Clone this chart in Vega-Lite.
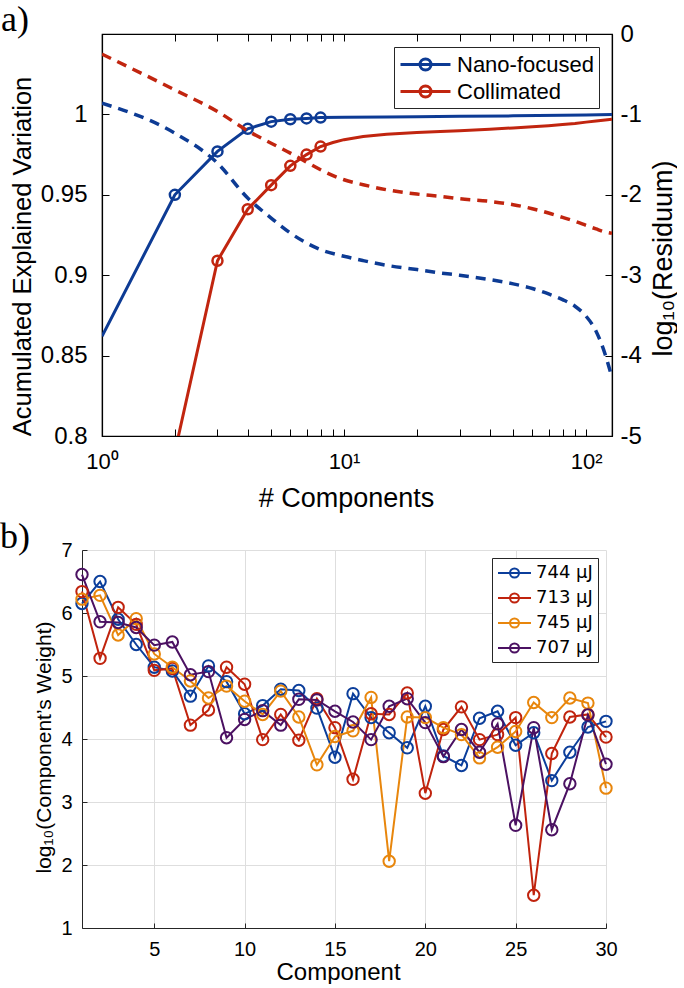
{
  "$schema": "https://vega.github.io/schema/vega-lite/v6.json",
  "background": "white",
  "padding": {"left": 0, "top": 1, "right": 0, "bottom": 0},
  "config": {
    "font": "Liberation Sans",
    "view": {"stroke": null},
    "axis": {"labelColor": "black", "titleColor": "black", "titleFontWeight": "normal", "domainColor": "black", "tickColor": "black", "labelFont": "Liberation Sans", "titleFont": "Liberation Sans", "grid": false, "labelOverlap": false},
    "legend": {"labelColor": "black"},
    "title": {"color": "black"}
  },
  "resolve": {"scale": {"color": "independent"}, "legend": {"color": "independent"}},
  "datasets": {
    "acc": [
      {"n": 1, "series": "Nano-focused", "v": 0.862},
      {"n": 2, "series": "Nano-focused", "v": 0.95},
      {"n": 3, "series": "Nano-focused", "v": 0.977},
      {"n": 4, "series": "Nano-focused", "v": 0.991},
      {"n": 5, "series": "Nano-focused", "v": 0.9955},
      {"n": 6, "series": "Nano-focused", "v": 0.997},
      {"n": 7, "series": "Nano-focused", "v": 0.9975},
      {"n": 8, "series": "Nano-focused", "v": 0.998},
      {"n": 10, "series": "Nano-focused", "v": 0.9982},
      {"n": 15, "series": "Nano-focused", "v": 0.9984},
      {"n": 20, "series": "Nano-focused", "v": 0.9986},
      {"n": 30, "series": "Nano-focused", "v": 0.9988},
      {"n": 50, "series": "Nano-focused", "v": 0.9991},
      {"n": 80, "series": "Nano-focused", "v": 0.9995},
      {"n": 100, "series": "Nano-focused", "v": 0.9997},
      {"n": 128, "series": "Nano-focused", "v": 0.9999},
      {"n": 2, "series": "Collimated", "v": 0.79},
      {"n": 3, "series": "Collimated", "v": 0.909},
      {"n": 4, "series": "Collimated", "v": 0.941},
      {"n": 5, "series": "Collimated", "v": 0.956},
      {"n": 6, "series": "Collimated", "v": 0.968},
      {"n": 7, "series": "Collimated", "v": 0.975},
      {"n": 8, "series": "Collimated", "v": 0.98},
      {"n": 9, "series": "Collimated", "v": 0.9825},
      {"n": 10, "series": "Collimated", "v": 0.9843},
      {"n": 12, "series": "Collimated", "v": 0.9863},
      {"n": 15, "series": "Collimated", "v": 0.9877},
      {"n": 20, "series": "Collimated", "v": 0.9887},
      {"n": 25, "series": "Collimated", "v": 0.9894},
      {"n": 30, "series": "Collimated", "v": 0.9899},
      {"n": 40, "series": "Collimated", "v": 0.9908},
      {"n": 50, "series": "Collimated", "v": 0.9916},
      {"n": 60, "series": "Collimated", "v": 0.9923},
      {"n": 70, "series": "Collimated", "v": 0.993},
      {"n": 80, "series": "Collimated", "v": 0.9937},
      {"n": 90, "series": "Collimated", "v": 0.9944},
      {"n": 100, "series": "Collimated", "v": 0.9952},
      {"n": 110, "series": "Collimated", "v": 0.9959},
      {"n": 120, "series": "Collimated", "v": 0.9965},
      {"n": 128, "series": "Collimated", "v": 0.997}
    ],
    "res": [
      {"n": 1, "series": "Nano-focused", "v": -0.861},
      {"n": 2, "series": "Nano-focused", "v": -1.233},
      {"n": 3, "series": "Nano-focused", "v": -1.606},
      {"n": 4, "series": "Nano-focused", "v": -2.04},
      {"n": 5, "series": "Nano-focused", "v": -2.289},
      {"n": 6, "series": "Nano-focused", "v": -2.475},
      {"n": 7, "series": "Nano-focused", "v": -2.6},
      {"n": 8, "series": "Nano-focused", "v": -2.682},
      {"n": 10, "series": "Nano-focused", "v": -2.765},
      {"n": 12, "series": "Nano-focused", "v": -2.819},
      {"n": 15, "series": "Nano-focused", "v": -2.877},
      {"n": 20, "series": "Nano-focused", "v": -2.93},
      {"n": 25, "series": "Nano-focused", "v": -2.972},
      {"n": 30, "series": "Nano-focused", "v": -3.0},
      {"n": 40, "series": "Nano-focused", "v": -3.055},
      {"n": 50, "series": "Nano-focused", "v": -3.108},
      {"n": 60, "series": "Nano-focused", "v": -3.166},
      {"n": 70, "series": "Nano-focused", "v": -3.233},
      {"n": 80, "series": "Nano-focused", "v": -3.303},
      {"n": 90, "series": "Nano-focused", "v": -3.386},
      {"n": 100, "series": "Nano-focused", "v": -3.51},
      {"n": 110, "series": "Nano-focused", "v": -3.696},
      {"n": 120, "series": "Nano-focused", "v": -3.986},
      {"n": 128, "series": "Nano-focused", "v": -4.276},
      {"n": 1, "series": "Collimated", "v": -0.25},
      {"n": 2, "series": "Collimated", "v": -0.695},
      {"n": 3, "series": "Collimated", "v": -0.964},
      {"n": 4, "series": "Collimated", "v": -1.204},
      {"n": 5, "series": "Collimated", "v": -1.358},
      {"n": 6, "series": "Collimated", "v": -1.482},
      {"n": 7, "series": "Collimated", "v": -1.594},
      {"n": 8, "series": "Collimated", "v": -1.689},
      {"n": 10, "series": "Collimated", "v": -1.813},
      {"n": 12, "series": "Collimated", "v": -1.875},
      {"n": 15, "series": "Collimated", "v": -1.937},
      {"n": 20, "series": "Collimated", "v": -1.991},
      {"n": 25, "series": "Collimated", "v": -2.02},
      {"n": 30, "series": "Collimated", "v": -2.049},
      {"n": 40, "series": "Collimated", "v": -2.082},
      {"n": 50, "series": "Collimated", "v": -2.123},
      {"n": 60, "series": "Collimated", "v": -2.173},
      {"n": 70, "series": "Collimated", "v": -2.227},
      {"n": 80, "series": "Collimated", "v": -2.281},
      {"n": 90, "series": "Collimated", "v": -2.33},
      {"n": 100, "series": "Collimated", "v": -2.38},
      {"n": 110, "series": "Collimated", "v": -2.425},
      {"n": 120, "series": "Collimated", "v": -2.463},
      {"n": 128, "series": "Collimated", "v": -2.48}
    ],
    "weights": [
      {"c": 1, "e": "744 µJ", "w": 6.15}, {"c": 2, "e": "744 µJ", "w": 6.5}, {"c": 3, "e": "744 µJ", "w": 5.9}, {"c": 4, "e": "744 µJ", "w": 5.5}, {"c": 5, "e": "744 µJ", "w": 5.14}, {"c": 6, "e": "744 µJ", "w": 5.08}, {"c": 7, "e": "744 µJ", "w": 4.68}, {"c": 8, "e": "744 µJ", "w": 5.16}, {"c": 9, "e": "744 µJ", "w": 4.91}, {"c": 10, "e": "744 µJ", "w": 4.4},
      {"c": 11, "e": "744 µJ", "w": 4.53}, {"c": 12, "e": "744 µJ", "w": 4.79}, {"c": 13, "e": "744 µJ", "w": 4.77}, {"c": 14, "e": "744 µJ", "w": 4.49}, {"c": 15, "e": "744 µJ", "w": 3.71}, {"c": 16, "e": "744 µJ", "w": 4.72}, {"c": 17, "e": "744 µJ", "w": 4.34}, {"c": 18, "e": "744 µJ", "w": 4.1}, {"c": 19, "e": "744 µJ", "w": 3.86}, {"c": 20, "e": "744 µJ", "w": 4.52},
      {"c": 21, "e": "744 µJ", "w": 3.73}, {"c": 22, "e": "744 µJ", "w": 3.58}, {"c": 23, "e": "744 µJ", "w": 4.33}, {"c": 24, "e": "744 µJ", "w": 4.44}, {"c": 25, "e": "744 µJ", "w": 3.9}, {"c": 26, "e": "744 µJ", "w": 4.1}, {"c": 27, "e": "744 µJ", "w": 3.34}, {"c": 28, "e": "744 µJ", "w": 3.79}, {"c": 29, "e": "744 µJ", "w": 4.19}, {"c": 30, "e": "744 µJ", "w": 4.28},
      {"c": 1, "e": "713 µJ", "w": 6.34}, {"c": 2, "e": "713 µJ", "w": 5.28}, {"c": 3, "e": "713 µJ", "w": 6.09}, {"c": 4, "e": "713 µJ", "w": 5.82}, {"c": 5, "e": "713 µJ", "w": 5.09}, {"c": 6, "e": "713 µJ", "w": 5.12}, {"c": 7, "e": "713 µJ", "w": 4.22}, {"c": 8, "e": "713 µJ", "w": 4.46}, {"c": 9, "e": "713 µJ", "w": 5.14}, {"c": 10, "e": "713 µJ", "w": 4.87},
      {"c": 11, "e": "713 µJ", "w": 3.99}, {"c": 12, "e": "713 µJ", "w": 4.39}, {"c": 13, "e": "713 µJ", "w": 3.98}, {"c": 14, "e": "713 µJ", "w": 4.64}, {"c": 15, "e": "713 µJ", "w": 4.18}, {"c": 16, "e": "713 µJ", "w": 3.36}, {"c": 17, "e": "713 µJ", "w": 4.4}, {"c": 18, "e": "713 µJ", "w": 4.39}, {"c": 19, "e": "713 µJ", "w": 4.73}, {"c": 20, "e": "713 µJ", "w": 3.14},
      {"c": 21, "e": "713 µJ", "w": 4.15}, {"c": 22, "e": "713 µJ", "w": 4.51}, {"c": 23, "e": "713 µJ", "w": 3.99}, {"c": 24, "e": "713 µJ", "w": 4.07}, {"c": 25, "e": "713 µJ", "w": 4.34}, {"c": 26, "e": "713 µJ", "w": 1.52}, {"c": 27, "e": "713 µJ", "w": 3.77}, {"c": 28, "e": "713 µJ", "w": 4.35}, {"c": 29, "e": "713 µJ", "w": 4.39}, {"c": 30, "e": "713 µJ", "w": 4.03},
      {"c": 1, "e": "745 µJ", "w": 6.22}, {"c": 2, "e": "745 µJ", "w": 6.28}, {"c": 3, "e": "745 µJ", "w": 5.65}, {"c": 4, "e": "745 µJ", "w": 5.91}, {"c": 5, "e": "745 µJ", "w": 5.35}, {"c": 6, "e": "745 µJ", "w": 5.14}, {"c": 7, "e": "745 µJ", "w": 4.92}, {"c": 8, "e": "745 µJ", "w": 4.65}, {"c": 9, "e": "745 µJ", "w": 4.84}, {"c": 10, "e": "745 µJ", "w": 4.6},
      {"c": 11, "e": "745 µJ", "w": 4.39}, {"c": 12, "e": "745 µJ", "w": 4.76}, {"c": 13, "e": "745 µJ", "w": 4.35}, {"c": 14, "e": "745 µJ", "w": 3.59}, {"c": 15, "e": "745 µJ", "w": 4.04}, {"c": 16, "e": "745 µJ", "w": 4.13}, {"c": 17, "e": "745 µJ", "w": 4.66}, {"c": 18, "e": "745 µJ", "w": 2.06}, {"c": 19, "e": "745 µJ", "w": 4.35}, {"c": 20, "e": "745 µJ", "w": 4.34},
      {"c": 21, "e": "745 µJ", "w": 4.18}, {"c": 22, "e": "745 µJ", "w": 4.07}, {"c": 23, "e": "745 µJ", "w": 3.7}, {"c": 24, "e": "745 µJ", "w": 3.87}, {"c": 25, "e": "745 µJ", "w": 4.12}, {"c": 26, "e": "745 µJ", "w": 4.58}, {"c": 27, "e": "745 µJ", "w": 4.34}, {"c": 28, "e": "745 µJ", "w": 4.65}, {"c": 29, "e": "745 µJ", "w": 4.57}, {"c": 30, "e": "745 µJ", "w": 3.22},
      {"c": 1, "e": "707 µJ", "w": 6.61}, {"c": 2, "e": "707 µJ", "w": 5.86}, {"c": 3, "e": "707 µJ", "w": 5.85}, {"c": 4, "e": "707 µJ", "w": 5.77}, {"c": 5, "e": "707 µJ", "w": 5.49}, {"c": 6, "e": "707 µJ", "w": 5.54}, {"c": 7, "e": "707 µJ", "w": 5.02}, {"c": 8, "e": "707 µJ", "w": 5.07}, {"c": 9, "e": "707 µJ", "w": 4.02}, {"c": 10, "e": "707 µJ", "w": 4.31},
      {"c": 11, "e": "707 µJ", "w": 4.45}, {"c": 12, "e": "707 µJ", "w": 4.22}, {"c": 13, "e": "707 µJ", "w": 4.63}, {"c": 14, "e": "707 µJ", "w": 4.62}, {"c": 15, "e": "707 µJ", "w": 4.44}, {"c": 16, "e": "707 µJ", "w": 4.27}, {"c": 17, "e": "707 µJ", "w": 3.99}, {"c": 18, "e": "707 µJ", "w": 4.52}, {"c": 19, "e": "707 µJ", "w": 4.64}, {"c": 20, "e": "707 µJ", "w": 4.26},
      {"c": 21, "e": "707 µJ", "w": 3.72}, {"c": 22, "e": "707 µJ", "w": 4.15}, {"c": 23, "e": "707 µJ", "w": 3.79}, {"c": 24, "e": "707 µJ", "w": 4.24}, {"c": 25, "e": "707 µJ", "w": 2.63}, {"c": 26, "e": "707 µJ", "w": 4.18}, {"c": 27, "e": "707 µJ", "w": 2.56}, {"c": 28, "e": "707 µJ", "w": 3.29}, {"c": 29, "e": "707 µJ", "w": 4.38}, {"c": 30, "e": "707 µJ", "w": 3.6}
    ]
  },
  "vconcat": [
    {
      "hconcat": [
        {
          "width": 1, "height": 1,
          "data": {"values": []},
          "mark": "point",
          "view": {"stroke": null}
        },
        {
          "width": 510, "height": 402,
          "view": {"stroke": "black", "strokeWidth": 1.2},
          "title": {"text": "a)", "anchor": "start", "frame": "group", "dx": -101, "offset": -53, "baseline": "bottom", "font": "Liberation Serif", "fontSize": 36, "fontWeight": "normal", "color": "black"},
          "layer": [
            {
              "layer": [
                {
                  "data": {"name": "acc"},
                  "mark": {"type": "line", "clip": true, "strokeWidth": 3},
                  "encoding": {
                    "x": {"field": "n", "type": "quantitative", "scale": {"type": "log", "domain": [1, 128], "nice": false},
                      "axis": {"orient": "bottom", "values": [1,2,3,4,5,6,7,8,9,10,20,30,40,50,60,70,80,90,100],
                        "labelExpr": "datum.value == 1 ? '10⁰' : datum.value == 10 ? '10¹' : datum.value == 100 ? '10²' : ''",
                        "tickSize": -7, "labelPadding": 22, "labelFontSize": 22, "labelFlush": false,
                        "title": "# Components", "titleFontSize": 27, "titlePadding": 13, "titleX": 244, "domainWidth": 1.2}},
                    "y": {"field": "v", "type": "quantitative", "scale": {"domain": [0.8, 1.05], "nice": false, "zero": false},
                      "axis": {"orient": "left", "values": [0.8, 0.85, 0.9, 0.95, 1], "format": "~g",
                        "tickSize": -7, "labelPadding": 22, "labelFontSize": 24,
                        "title": "Acumulated Explained Variation", "titleFontSize": 25.5, "titlePadding": 5, "titleY": 222, "domainWidth": 1.2}},
                    "color": {"field": "series", "type": "nominal", "sort": null,
                      "scale": {"domain": ["Nano-focused", "Collimated"], "range": ["#0d3b94", "#c1250f"]},
                      "legend": {"title": null, "orient": "top-right", "offset": 13, "labelFontSize": 22, "labelFont": "Liberation Sans",
                        "labelExpr": "datum.label + '\u00a0\u00a0\u00a0'",
                        "symbolType": "M-1,0L3.545,0M1.773,0A0.5,0.5,0,1,1,0.773,0A0.5,0.5,0,1,1,1.773,0",
                        "symbolSize": 484, "symbolStrokeWidth": 3, "symbolFillColor": "white",
                        "strokeColor": "#262626", "fillColor": "white", "padding": 5, "rowPadding": 3, "labelOffset": 33}}
                  }
                },
                {
                  "data": {"name": "acc"},
                  "transform": [{"filter": "datum.n >= 2 && datum.n <= 8"}],
                  "mark": {"type": "point", "filled": false, "size": 100, "strokeWidth": 2.5, "opacity": 1, "clip": true},
                  "encoding": {
                    "x": {"field": "n", "type": "quantitative"},
                    "y": {"field": "v", "type": "quantitative"},
                    "color": {"field": "series", "type": "nominal", "sort": null}
                  }
                }
              ]
            },
            {
              "data": {"name": "res"},
              "mark": {"type": "line", "clip": true, "strokeWidth": 3.5, "strokeDash": [10, 7], "interpolate": "monotone"},
              "encoding": {
                "x": {"field": "n", "type": "quantitative", "scale": {"type": "log", "domain": [1, 128], "nice": false},
                  "axis": {"orient": "top", "values": [1,2,3,4,5,6,7,8,9,10,20,30,40,50,60,70,80,90,100], "labels": false, "domain": false, "tickSize": -7, "title": null}},
                "y": {"field": "v", "type": "quantitative", "scale": {"domain": [-5, 0], "nice": false, "zero": false},
                  "axis": {"orient": "right", "values": [-5, -4, -3, -2, -1, 0], "labelExpr": "'' + datum.value",
                    "tickSize": -7, "labelPadding": 15, "labelFontSize": 24,
                    "title": "log₁₀(Residuum)", "titleFontSize": 27, "titleAngle": 270, "titleBaseline": "top", "titlePadding": 9, "titleY": 224, "domainWidth": 1.2}},
                "color": {"field": "series", "type": "nominal", "sort": null}
              }
            }
          ],
          "resolve": {"scale": {"y": "independent"}, "axis": {"x": "independent", "y": "independent"}}
        }
      ],
      "spacing": -83,
      "resolve": {"scale": {"color": "independent"}, "legend": {"color": "independent"}}
    },
    {
      "width": 524, "height": 378,
      "title": {"text": "b)", "anchor": "start", "frame": "group", "dx": -82, "offset": -52, "baseline": "bottom", "font": "Liberation Serif", "fontSize": 36, "fontWeight": "normal", "color": "black"},
      "data": {"name": "weights"},
      "mark": {"type": "line", "strokeWidth": 2, "point": {"filled": false, "size": 130, "strokeWidth": 2}},
      "encoding": {
        "x": {"field": "c", "type": "quantitative", "scale": {"domain": [1, 30], "nice": false, "zero": false},
          "axis": {"values": [5, 10, 15, 20, 25, 30], "grid": true, "gridColor": "#dedede", "tickSize": -5, "labelPadding": 16, "labelFontSize": 20, "labelFlush": false,
            "title": "Component", "titleFontSize": 24, "titlePadding": 1, "titleX": 256, "domainColor": "#262626", "tickColor": "#262626"}},
        "y": {"field": "w", "type": "quantitative", "scale": {"domain": [1, 7], "nice": false, "zero": false},
          "axis": {"values": [1, 2, 3, 4, 5, 6, 7], "grid": true, "gridColor": "#dedede", "tickSize": -5, "labelPadding": 15, "labelFontSize": 20,
            "title": "log₁₀(Component’s Weight)", "titleFontSize": 21, "titlePadding": 6, "titleY": 197, "domainColor": "#262626", "tickColor": "#262626"}},
        "color": {"field": "e", "type": "nominal", "sort": null,
          "scale": {"domain": ["744 µJ", "713 µJ", "745 µJ", "707 µJ"], "range": ["#0b3e9b", "#c0230d", "#e8860c", "#4b1162"]},
          "legend": {"title": null, "orient": "top-right", "offset": 8, "labelFontSize": 18, "labelFont": "DejaVu Sans",
            "symbolType": "M-1,0L2.667,0M1.333,0A0.5,0.5,0,1,1,0.333,0A0.5,0.5,0,1,1,1.333,0",
            "symbolSize": 324, "symbolStrokeWidth": 2, "symbolFillColor": "white",
            "strokeColor": "#262626", "fillColor": "white", "padding": 5, "rowPadding": 6, "labelOffset": 19}}
      }
    }
  ],
  "spacing": 7
}
